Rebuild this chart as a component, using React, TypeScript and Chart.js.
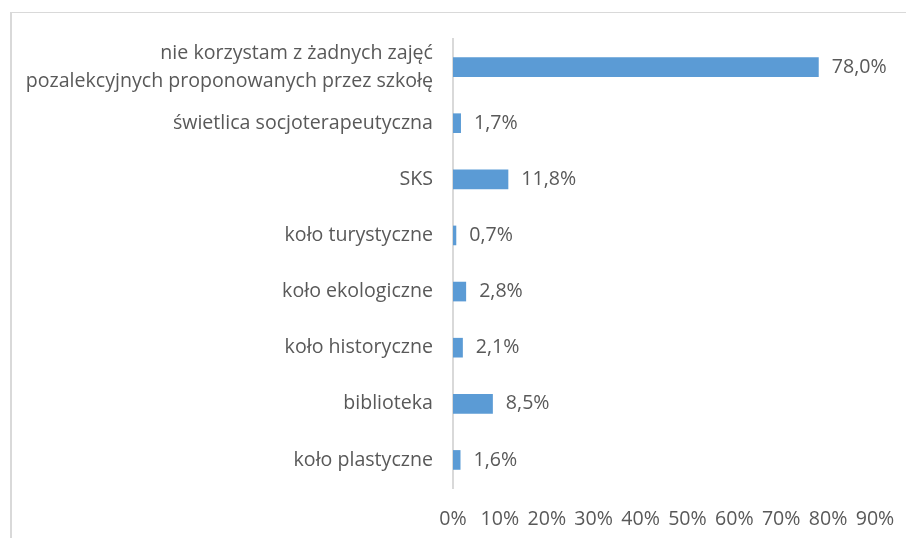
import React, { useEffect, useRef } from "react";
import { Chart, registerables } from "chart.js";

Chart.register(...registerables);

const categories: (string | string[])[] = [
  ["nie korzystam z żadnych zajęć", "pozalekcyjnych proponowanych przez szkołę"],
  "świetlica socjoterapeutyczna",
  "SKS",
  "koło turystyczne",
  "koło ekologiczne",
  "koło historyczne",
  "biblioteka",
  "koło plastyczne",
];
const values = [78.0, 1.7, 11.8, 0.7, 2.8, 2.1, 8.5, 1.6];
const xTicks = [0, 10, 20, 30, 40, 50, 60, 70, 80, 90];

const FONT = "'Open Sans', sans-serif";
const TEXT = "#595959";
const SIZE = 19.6;

const valueLabels = {
  id: "valueLabels",
  afterDatasetsDraw(chart: any) {
    const ctx = chart.ctx;
    const meta = chart.getDatasetMeta(0);
    ctx.save();
    ctx.font = `${SIZE}px ${FONT}`;
    ctx.fillStyle = TEXT;
    ctx.textAlign = "left";
    ctx.textBaseline = "middle";
    meta.data.forEach((bar: any, i: number) => {
      const txt = values[i].toFixed(1).replace(".", ",") + "%";
      ctx.fillText(txt, bar.x + 13, bar.y);
    });
    ctx.restore();
  },
};

export default function App() {
  const ref = useRef<HTMLCanvasElement>(null);
  useEffect(() => {
    if (!ref.current) return;
    const chart = new Chart(ref.current, {
      type: "bar",
      data: {
        labels: categories,
        datasets: [
          {
            data: values,
            backgroundColor: "#5B9BD5",
            borderWidth: 0,
            barPercentage: 0.35,
            categoryPercentage: 1,
          },
        ],
      },
      options: {
        indexAxis: "y",
        animation: false,
        responsive: false,
        maintainAspectRatio: false,
        layout: { padding: { top: 26, right: 31, left: 0, bottom: 0 } },
        plugins: { legend: { display: false }, tooltip: { enabled: false } },
        scales: {
          x: {
            min: 0,
            max: 90,
            afterBuildTicks(scale: any) {
              scale.ticks = xTicks.map((v) => ({ value: v }));
            },
            afterFit(scale: any) {
              scale.height = 50;
              scale.paddingLeft = 0;
              scale.paddingRight = 0;
            },
            grid: { display: false, drawTicks: false },
            border: { display: false },
            ticks: {
              color: TEXT,
              font: { family: FONT, size: SIZE },
              padding: 20,
              maxRotation: 0,
              autoSkip: false,
              callback: (v: any) => v + "%",
            },
          },
          y: {
            afterFit(scale: any) {
              scale.width = 441;
              scale.paddingTop = 0;
              scale.paddingBottom = 0;
            },
            grid: { display: false, drawTicks: false },
            border: { display: true, color: "#d9d9d9", width: 2 },
            ticks: {
              color: TEXT,
              font: { family: FONT, size: SIZE, lineHeight: 1.43 },
              padding: 20,
              autoSkip: false,
            },
          },
        },
      },
      plugins: [valueLabels],
    });
    return () => chart.destroy();
  }, []);
  return (
    <div
      style={{
        position: "fixed",
        left: 10,
        top: 12,
        width: 896,
        height: 526,
        borderTop: "1px solid #d9d9d9",
        borderLeft: "2px solid #d9d9d9",
        background: "#fff",
      }}
    >
      <canvas ref={ref} width={894} height={525} style={{ display: "block" }} />
    </div>
  );
}
